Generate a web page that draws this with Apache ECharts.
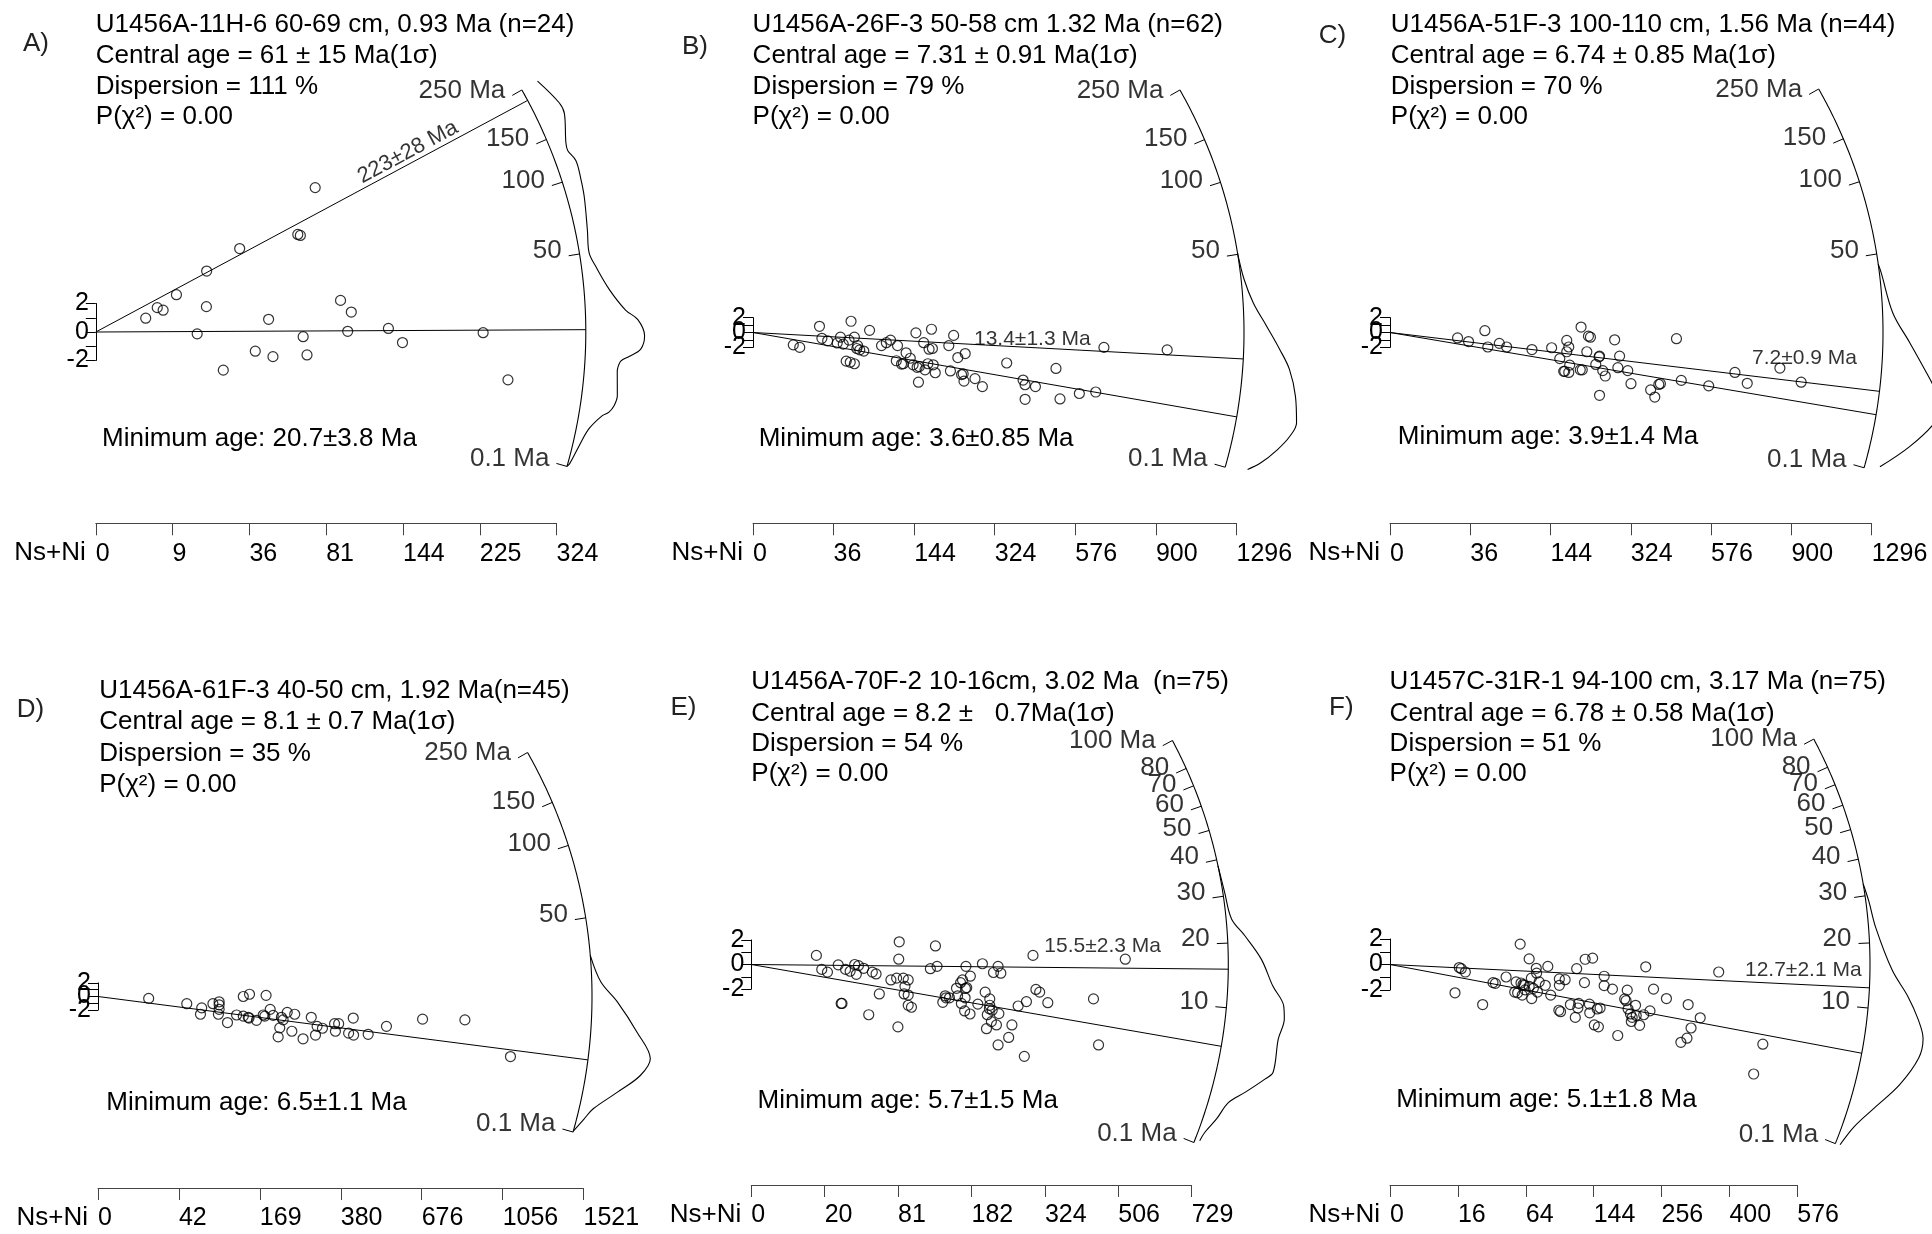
<!DOCTYPE html>
<html><head><meta charset="utf-8">
<script src="https://cdn.jsdelivr.net/npm/echarts@6/dist/echarts.min.js"></script>
<style>html,body{margin:0;padding:0;background:#fff}#c{width:1932px;height:1234px}</style>
</head><body><div id="c"></div>
<script>
// ================= DATA =================
// points: [sqrt(Ns+Ni), standardised estimate]
const ptsA = [[1.95,0.97],[2.40,1.71],[2.63,1.53],[3.15,2.62],[4.33,4.28],[4.32,1.78],[3.96,-0.13],[5.62,5.86],[4.98,-2.68],[6.23,-1.35],[6.75,0.89],[6.92,-1.73],[7.89,6.85],[7.99,6.78],[8.57,10.14],[8.10,-0.33],[8.25,-1.61],[9.56,2.22],[9.98,1.40],[9.84,0.05],[11.43,0.25],[11.98,-0.74],[15.13,-0.05],[16.10,-3.36]];
const ptsB = [[3.0,-1.66],[3.48,-2.0],[4.95,0.83],[5.13,-0.78],[5.56,-1.12],[6.27,-1.41],[6.51,-0.63],[6.72,-1.56],[7.30,1.51],[7.15,-1.02],[7.55,-0.63],[7.73,-2.15],[7.95,-2.34],[8.25,-2.49],[6.94,-3.85],[7.24,-4.0],[7.55,-4.2],[8.68,0.29],[9.57,-1.76],[10.24,-1.02],[10.76,-1.76],[10.67,-3.80],[11.19,-4.20],[11.40,-2.73],[11.71,-3.46],[11.92,-4.34],[12.13,-0.05],[12.22,-4.68],[12.32,-6.68],[12.71,-1.37],[12.81,-5.02],[13.02,-4.2],[13.11,-2.24],[13.29,0.44],[13.36,-2.15],[13.57,-5.41],[14.58,-1.76],[14.70,-5.17],[14.94,-0.39],[15.25,-3.37],[15.65,-5.56],[15.71,-6.54],[15.80,-2.83],[16.53,-6.20],[17.08,-7.27],[18.89,-4.10],[20.11,-6.39],[20.26,-7.02],[20.26,-8.98],[21.03,-7.27],[22.56,-4.83],[22.86,-8.93],[24.30,-8.20],[25.52,-8.00],[26.13,-2.0],[30.84,-2.34],[9.93,-1.37],[11.06,-4.24],[12.38,-4.59],[13.42,-4.34],[15.53,-5.66],[7.79,-1.76]];
const ptsC = [[5.05,-0.73],[5.87,-1.22],[7.09,0.24],[7.31,-1.95],[8.17,-1.46],[8.72,-1.95],[10.61,-2.29],[12.08,-2.05],[12.69,-3.51],[13.21,-1.07],[13.21,-2.59],[13.36,-1.95],[13.43,-4.39],[13.06,-5.22],[13.36,-5.37],[14.28,0.73],[14.37,-5.02],[14.22,-5.02],[14.71,-2.59],[14.83,-0.49],[14.98,-0.63],[15.38,-4.29],[15.66,-3.17],[15.66,-8.44],[15.90,-5.12],[16.09,-5.85],[16.79,-0.98],[17.03,-4.73],[17.16,-3.17],[17.77,-5.12],[18.01,-6.88],[19.48,-7.71],[19.79,-8.68],[20.09,-6.98],[20.21,-6.88],[21.41,-0.83],[21.77,-6.44],[23.82,-7.17],[25.78,-5.37],[26.70,-6.83],[29.14,-4.78],[30.73,-6.68],[12.98,-5.22],[15.63,-3.27]];
const ptsD = [[4.07,-0.28],[7.13,-1.06],[8.33,-1.67],[8.23,-2.61],[9.23,-1.06],[9.73,-0.78],[9.73,-1.22],[9.73,-1.89],[9.67,-2.61],[10.4,-3.83],[11.13,-2.72],[11.67,-2.89],[11.67,0],[12.17,0.33],[12.13,-3.17],[12.73,-3.5],[13.27,-2.72],[13.5,0.17],[13.83,-1.89],[14.07,-2.78],[14.47,-5.94],[14.6,-4.61],[14.87,-3.44],[15.2,-2.33],[15.57,-5.11],[15.8,-2.61],[16.47,-6.22],[17.13,-3.06],[17.47,-5.67],[17.6,-4.39],[18.03,-4.67],[19.0,-4.0],[19.07,-5.11],[19.33,-4.0],[20.13,-5.39],[20.5,-3.17],[20.53,-5.67],[21.7,-5.56],[23.17,-4.39],[26.07,-3.33],[29.47,-3.44],[33.13,-8.83],[14.73,-3.06],[12.07,-3.06],[13.4,-2.89]];
const ptsE = [[3.99,0.74],[4.32,-0.40],[4.67,-0.62],[5.33,-0.03],[5.78,-0.40],[6.06,-0.55],[6.34,0],[6.44,-0.80],[6.57,-0.09],[6.89,-0.31],[7.42,-0.62],[7.65,-0.77],[5.51,-3.17],[5.56,-3.17],[7.20,-4.09],[7.85,-2.40],[8.56,-1.26],[9.07,1.85],[9.04,0.43],[8.99,-5.08],[9.32,-1.11],[9.62,-1.26],[9.42,-1.78],[9.37,-2.40],[9.62,-2.49],[9.62,-3.32],[9.82,-3.48],[10.98,-0.34],[11.29,1.51],[11.39,-0.15],[11.74,-3.08],[11.89,-2.55],[12.15,-2.71],[12.58,-1.94],[12.65,-2.55],[12.83,-1.48],[12.95,-1.26],[13.16,-0.15],[13.21,-1.88],[13.11,-2.71],[13.08,-3.78],[13.43,-0.95],[13.41,-4.03],[13.89,-3.23],[14.17,0.06],[14.34,-2.25],[14.42,-5.23],[14.62,-2.80],[14.62,-3.32],[14.85,-0.65],[15.13,-0.15],[14.72,-4.65],[14.47,-4.09],[14.77,-3.72],[15.03,-4.92],[15.18,-4.00],[15.13,-6.55],[15.78,-5.94],[15.98,-4.92],[16.36,-3.38],[16.74,-7.48],[16.87,-3.02],[17.27,0.74],[17.45,-2.03],[17.68,-2.25],[18.18,-3.11],[20.98,-2.80],[21.29,-6.55],[22.93,0.43],[12.88,-3.17],[13.13,-1.94],[8.91,-1.11],[14.6,-3.6],[15.3,-0.71],[11.94,-2.71]];
const ptsF = [[3.83,-2.22],[4.08,-0.24],[4.20,-0.33],[4.44,-0.59],[5.46,-3.14],[6.07,-1.42],[6.21,-1.48],[6.84,-0.98],[7.43,-1.36],[7.67,1.60],[7.72,-1.45],[7.84,-1.57],[7.91,-1.63],[7.52,-2.22],[7.79,-2.40],[8.20,0.44],[8.20,-1.72],[8.33,-1.07],[8.35,-2.67],[8.45,-1.87],[8.62,-0.30],[8.64,-0.68],[8.79,-1.36],[9.15,-1.63],[9.30,-0.15],[9.47,-2.40],[9.98,-1.13],[9.98,-1.63],[9.95,-3.59],[10.05,-3.70],[10.32,-1.19],[10.63,-3.14],[10.92,-4.15],[11.0,-0.33],[11.07,-3.41],[11.46,-1.42],[11.50,0.41],[11.75,-3.11],[11.77,-3.79],[11.94,0.50],[12.04,-4.74],[12.28,-4.89],[12.38,-3.41],[12.62,-0.92],[12.62,-1.66],[13.11,-1.93],[13.42,-5.57],[13.83,-2.70],[13.91,-2.84],[13.98,-2.01],[14.17,-3.88],[14.47,-3.20],[14.51,-4.00],[14.71,-4.77],[14.22,-4.47],[14.95,-3.94],[15.07,-0.18],[15.32,-3.64],[15.53,-1.93],[16.29,-2.67],[17.14,-6.10],[17.50,-5.78],[17.57,-3.14],[17.74,-4.98],[18.28,-4.18],[19.37,-0.59],[21.43,-8.59],[21.97,-6.25],[7.96,-1.99],[8.69,-2.16],[11.12,-3.05],[12.21,-3.49],[14.27,-4.15],[14.03,-3.49],[7.35,-2.16]];

// Ns+Ni axis tick labels
const nsTicksA = ['0','9','36','81','144','225','324'];
const nsTicksB = ['0','36','144','324','576','900','1296'];
const nsTicksC = ['0','36','144','324','576','900','1296'];
const nsTicksD = ['0','42','169','380','676','1056','1521'];
const nsTicksE = ['0','20','81','182','324','506','729'];
const nsTicksF = ['0','16','64','144','256','400','576'];

// radial (age) scale ticks
const arcAgesAD = [250,150,100,50,0.1];
const arcLabelsAD = ['250 Ma','150','100','50','0.1 Ma'];
const arcAgesEF = [100,80,70,60,50,40,30,20,10,0.1];
const arcLabelsEF = ['100 Ma','80','70','60','50','40','30','20','10','0.1 Ma'];

// age lines (Ma) and their labels
const ageLinesA = [20.7, 223];  const ageLineLabelsA = ['', '223±28 Ma'];
const ageLinesB = [13.4, 3.6];  const ageLineLabelsB = ['13.4±1.3 Ma', ''];
const ageLinesC = [7.2, 3.9];   const ageLineLabelsC = ['7.2±0.9 Ma', ''];
const ageLinesD = [6.5];        const ageLineLabelsD = [''];
const ageLinesE = [15.5, 5.7];  const ageLineLabelsE = ['15.5±2.3 Ma', ''];
const ageLinesF = [12.7, 5.1];  const ageLineLabelsF = ['12.7±2.1 Ma', ''];

// kernel density estimates: [age Ma, relative density]
const kdeA = [[250,0.30],[192,0.45],[173,0.45],[137,0.28],[128,0.26],[115,0.33],[97.5,0.31],[83.4,0.28],[61.8,0.20],[49.9,0.16],[42.9,0.24],[33.4,0.42],[26.2,0.67],[23.3,0.87],[19.1,0.98],[16.0,0.92],[14.3,0.73],[13.3,0.60],[11.6,0.55],[11.0,0.55],[7.06,0.59],[5.6,0.56],[4.67,0.49],[4.13,0.39],[2.52,0.21],[1.06,0.11],[0.18,0.03],[0.1,0]];
const kdeB = [[50.8,0],[38.2,0.05],[29.1,0.17],[21.7,0.38],[15.9,0.60],[11.8,0.78],[7.4,0.92],[4.06,1.0],[2.65,0.93],[1.42,0.77],[0.51,0.55],[0.19,0.37]];
const kdeC = [[45,0],[41.1,0.03],[25.8,0.17],[17.4,0.45],[11.2,0.75],[8.4,0.92],[6.08,1.03],[4.06,0.98],[1.56,0.65],[0.225,0.25]];
const kdeD = [[33.5,0],[24.3,0.15],[18.7,0.42],[12.1,0.77],[7.8,1.03],[5.35,0.90],[3.09,0.57],[1.32,0.23],[0.62,0.12],[0.12,0]];
const kdeE = [[38.2,0],[30.9,0.03],[24.7,0.09],[21.2,0.29],[17.1,0.55],[13.2,0.75],[10.8,0.95],[9.33,0.98],[7.23,0.92],[4.36,0.93],[3.75,0.82],[2.59,0.55],[1.79,0.33],[0.90,0.22],[0.37,0.11],[0.16,0.08]];
const kdeF = [[33,0],[28.6,0.05],[22.8,0.12],[15.4,0.37],[11.8,0.65],[9.24,0.85],[7.36,0.97],[5.6,0.95],[3.34,0.73],[1.67,0.43],[0.65,0.20],[0.11,0.08]];

// texts
const titleA = ['U1456A-11H-6 60-69 cm, 0.93 Ma (n=24)','Central age = 61 ± 15 Ma(1σ)','Dispersion = 111 %','P(χ²) = 0.00'];
const titleB = ['U1456A-26F-3 50-58 cm 1.32 Ma (n=62)','Central age = 7.31 ± 0.91 Ma(1σ)','Dispersion = 79 %','P(χ²) = 0.00'];
const titleC = ['U1456A-51F-3 100-110 cm, 1.56 Ma (n=44)','Central age = 6.74 ± 0.85 Ma(1σ)','Dispersion = 70 %','P(χ²) = 0.00'];
const titleD = ['U1456A-61F-3 40-50 cm, 1.92 Ma(n=45)','Central age = 8.1 ± 0.7 Ma(1σ)','Dispersion = 35 %','P(χ²) = 0.00'];
const titleE = ['U1456A-70F-2 10-16cm, 3.02 Ma  (n=75)','Central age = 8.2 ±   0.7Ma(1σ)','Dispersion = 54 %','P(χ²) = 0.00'];
const titleF = ['U1457C-31R-1 94-100 cm, 3.17 Ma (n=75)','Central age = 6.78 ± 0.58 Ma(1σ)','Dispersion = 51 %','P(χ²) = 0.00'];
const minAges = ['Minimum age: 20.7±3.8 Ma','Minimum age: 3.6±0.85 Ma','Minimum age: 3.9±1.4 Ma','Minimum age: 6.5±1.1 Ma','Minimum age: 5.7±1.5 Ma','Minimum age: 5.1±1.8 Ma'];
const letters = ['A)','B)','C)','D)','E)','F)'];

// ================= LAYOUT / SCALES =================
const FF = '"Liberation Sans", Arial, Helvetica, sans-serif';
const SCALES = {
  AD: {c: 1/250, A: 1.115, t0: 20.04, tMin: 0.1, tMax: 250},
  EF: {c: 1/200, A: 1.575, t0: 16.26, tMin: 0.1, tMax: 100}
};
function ageAngle(t, s) {
  const g = Math.atan(Math.sqrt(s.c * t)), g0 = Math.atan(Math.sqrt(s.c * s.t0));
  return Math.atan(s.A * (g - g0));
}
const TY_TOP = [24.7, 56.2, 87, 116.8];
const TY_D = [691, 722, 754, 785];
const TY_EF = [681.6, 713.7, 743.9, 774.1];
const KDE_SCALE = 60;

const panels = [
 {pts:ptsA, ns:nsTicksA, ages:ageLinesA, ageLbl:ageLineLabelsA, kde:kdeA, arcAges:arcAgesAD, arcLbl:arcLabelsAD, title:titleA,
  L:{ox:95.8, oy:332, axisY:523.3, pxs:25.6, py:14.24, xMax:18, xStep:3, R:490, sc:'AD', letter:[23,44.3], tx:95.8, ty:TY_TOP, min:[102,438.9], lbl:{mode:'rot', d:360, perp:11}}},
 {pts:ptsB, ns:nsTicksB, ages:ageLinesB, ageLbl:ageLineLabelsB, kde:kdeB, arcAges:arcAgesAD, arcLbl:arcLabelsAD, title:titleB,
  L:{ox:753, oy:332.5, axisY:523.3, pxs:13.43, py:7.44, xMax:36, xStep:6, R:491, sc:'AD', letter:[682,47.2], tx:752.6, ty:TY_TOP, min:[758.7,438.9], lbl:{mode:'h', dx:221, dy:5}}},
 {pts:ptsC, ns:nsTicksC, ages:ageLinesC, ageLbl:ageLineLabelsC, kde:kdeC, arcAges:arcAgesAD, arcLbl:arcLabelsAD, title:titleC,
  L:{ox:1390, oy:332.5, axisY:523.3, pxs:13.38, py:7.44, xMax:36, xStep:6, R:493, sc:'AD', letter:[1318.8,36.3], tx:1390.8, ty:TY_TOP, min:[1397.8,437], lbl:{mode:'h', dx:362, dy:-7.5}}},
 {pts:ptsD, ns:nsTicksD, ages:ageLinesD, ageLbl:ageLineLabelsD, kde:kdeD, arcAges:arcAgesAD, arcLbl:arcLabelsAD, title:titleD,
  L:{ox:98, oy:996.5, axisY:1188, pxs:12.45, py:6.8, xMax:39, xStep:6.5, R:494, sc:'AD', letter:[16.7,709.9], tx:99.2, ty:TY_D, min:[106.3,1102.8], lbl:null}},
 {pts:ptsE, ns:nsTicksE, ages:ageLinesE, ageLbl:ageLineLabelsE, kde:kdeE, arcAges:arcAgesEF, arcLbl:arcLabelsEF, title:titleE,
  L:{ox:751.3, oy:964.5, axisY:1185, pxs:16.31, py:12.28, xMax:27, xStep:4.5, R:477, sc:'EF', letter:[670.5,708], tx:751.3, ty:TY_EF, min:[757.5,1100.9], lbl:{mode:'h', dx:293, dy:-10.5}}},
 {pts:ptsF, ns:nsTicksF, ages:ageLinesF, ageLbl:ageLineLabelsF, kde:kdeF, arcAges:arcAgesEF, arcLbl:arcLabelsEF, title:titleF,
  L:{ox:1390, oy:964.5, axisY:1185, pxs:16.97, py:12.75, xMax:24, xStep:4, R:480, sc:'EF', letter:[1329.1,708], tx:1389.6, ty:TY_EF, min:[1396.2,1100.1], lbl:{mode:'h', dx:355, dy:-1}}}
];

const grid = [], xAxis = [], yAxis = [], series = [], graphic = [];
const UP = 320, DOWN = 230, WIDE = 700;

function txt(x, y, s, size, color) {
  return {type:'text', x:x, y:y, silent:true,
    style:{text:s, fill:color||'#000', font: size + 'px ' + FF, align:'left', verticalAlign:'middle', textAlign:'left', textVerticalAlign:'middle'}};
}

panels.forEach((p, i) => {
  const L = p.L, sc = SCALES[L.sc];
  const gMain = 3*i, gAx = 3*i+1, gBr = 3*i+2;
  const pd = (th, r) => [r*Math.cos(th)/L.pxs, r*Math.sin(th)/L.py];

  // main plotting grid (hidden axes, same pixel scale as visible axes)
  grid.push({left:L.ox, top:L.oy-UP, width:WIDE, height:UP+DOWN, containLabel:false, outerBoundsMode:'none'});
  xAxis.push({type:'value', gridIndex:gMain, show:false, min:0, max:WIDE/L.pxs});
  yAxis.push({type:'value', gridIndex:gMain, show:false, min:-DOWN/L.py, max:UP/L.py});

  // Ns+Ni axis grid
  grid.push({left:L.ox, top:L.axisY-10, width:L.xMax*L.pxs, height:10, containLabel:false, outerBoundsMode:'none'});
  xAxis.push({type:'value', gridIndex:gAx, position:'bottom', min:0, max:L.xMax, interval:L.xStep,
    axisLine:{show:true, onZero:false, lineStyle:{color:'#444', width:1}},
    axisTick:{show:true, length:12, lineStyle:{color:'#444', width:1}},
    splitLine:{show:false},
    axisLabel:{show:true, align:'left', margin:18, fontSize:25, color:'#000', fontFamily:FF, showMinLabel:true, showMaxLabel:true,
      formatter: v => { const k = Math.round(v/L.xStep); return (Math.abs(v-k*L.xStep) < 1e-6 && p.ns[k] !== undefined) ? p.ns[k] : ''; }},
    name:'Ns+Ni', nameLocation:'start', nameGap:10,
    nameTextStyle:{fontSize:26, color:'#000', fontFamily:FF, align:'right', verticalAlign:'top', padding:[17,0,0,0]}});
  yAxis.push({type:'value', gridIndex:gAx, show:false, min:0, max:1});

  // standardised estimate bracket (-2..2)
  grid.push({left:L.ox, top:L.oy-2*L.py, width:10, height:4*L.py, containLabel:false, outerBoundsMode:'none'});
  xAxis.push({type:'value', gridIndex:gBr, show:false, min:0, max:1});
  yAxis.push({type:'value', gridIndex:gBr, position:'left', min:-2, max:2, interval:1,
    axisLine:{show:true, onZero:false, lineStyle:{color:'#000', width:1}},
    axisTick:{show:true, length:10, lineStyle:{color:'#000', width:1}},
    splitLine:{show:false},
    axisLabel:{show:true, margin:7, fontSize:25, color:'#000', fontFamily:FF, showMinLabel:true, showMaxLabel:true,
      formatter: v => (Math.abs(v % 2) < 1e-6 ? String(v) : '')}});

  const ax = {xAxisIndex:gMain, yAxisIndex:gMain, silent:true, animation:false};

  // radial age scale arc
  const th0 = ageAngle(sc.tMin, sc), th1 = ageAngle(sc.tMax, sc);
  const arc = [];
  for (let k = 0; k <= 120; k++) arc.push(pd(th0 + (th1-th0)*k/120, L.R));
  series.push(Object.assign({type:'line', data:arc, symbol:'none', showSymbol:false, clip:false,
    lineStyle:{color:'#000', width:1.1}, z:3}, ax));

  // arc ticks
  series.push(Object.assign({type:'lines', coordinateSystem:'cartesian2d', clip:false,
    data: p.arcAges.map(t => { const th = ageAngle(t, sc); return {coords:[pd(th, L.R), pd(th, L.R-11)]}; }),
    lineStyle:{color:'#000', width:1, opacity:1, curveness:0}, z:3}, ax));

  // arc tick labels
  series.push(Object.assign({type:'scatter', clip:false, symbolSize:1, itemStyle:{color:'rgba(0,0,0,0)'},
    data: p.arcAges.map((t, k) => { const th = ageAngle(t, sc); return {value:pd(th, L.R-11), name:p.arcLbl[k]}; }),
    label:{show:true, formatter:'{b}', position:'inside', align:'right', verticalAlign:'bottom', offset:[-7, 8],
      fontSize:26, color:'#000', fontFamily:FF}, z:4}, ax));

  // age lines from origin to arc
  p.ages.forEach(t => {
    const th = ageAngle(t, sc);
    series.push(Object.assign({type:'line', data:[[0,0], pd(th, L.R)], symbol:'none', showSymbol:false, clip:false,
      lineStyle:{color:'#000', width:1}, z:3}, ax));
  });

  // age line labels
  p.ages.forEach((t, k) => {
    const s = p.ageLbl[k]; if (!s || !L.lbl) return;
    const th = ageAngle(t, sc);
    let pt, label;
    if (L.lbl.mode === 'rot') {
      const x = L.lbl.d*Math.cos(th) - L.lbl.perp*Math.sin(th);
      const y = L.lbl.d*Math.sin(th) + L.lbl.perp*Math.cos(th);
      pt = [x/L.pxs, y/L.py];
      label = {show:true, formatter:s, position:'inside', align:'center', verticalAlign:'middle', rotate: th*180/Math.PI,
        fontSize:22, color:'#000', fontFamily:FF};
    } else {
      const x = L.lbl.dx, y = L.lbl.dx*Math.tan(th);
      pt = [x/L.pxs, y/L.py];
      label = {show:true, formatter:s, position:'inside', align:'left', verticalAlign:'bottom', offset:[0, L.lbl.dy],
        fontSize:21, color:'#000', fontFamily:FF};
    }
    series.push(Object.assign({type:'scatter', clip:false, symbolSize:1, itemStyle:{color:'rgba(0,0,0,0)'},
      data:[{value:pt}], label:label, z:4}, ax));
  });

  // KDE drawn outside the arc
  series.push(Object.assign({type:'line', clip:false, symbol:'none', showSymbol:false, smooth:0.35,
    data: p.kde.map(([t, d]) => pd(ageAngle(t, sc), L.R + d*KDE_SCALE)),
    lineStyle:{color:'#000', width:1.1}, z:3}, ax));

  // grain points
  series.push(Object.assign({type:'scatter', clip:false, data:p.pts, symbol:'circle', symbolSize:10,
    itemStyle:{color:'rgba(0,0,0,0)', borderColor:'#000', borderWidth:1.2}, z:5}, ax));

  // texts
  graphic.push(txt(L.letter[0], L.letter[1], letters[i], 26, '#222'));
  p.title.forEach((s, k) => graphic.push(txt(L.tx, L.ty[k], s, 26)));
  graphic.push(txt(L.min[0], L.min[1], minAges[i], 26));
});

const chart = echarts.init(document.getElementById('c'), null, {renderer:'canvas', width:1932, height:1234});
chart.setOption({
  animation:false,
  backgroundColor:'#fff',
  textStyle:{fontFamily:FF},
  grid:grid, xAxis:xAxis, yAxis:yAxis, series:series, graphic:graphic
});
</script></body></html>
